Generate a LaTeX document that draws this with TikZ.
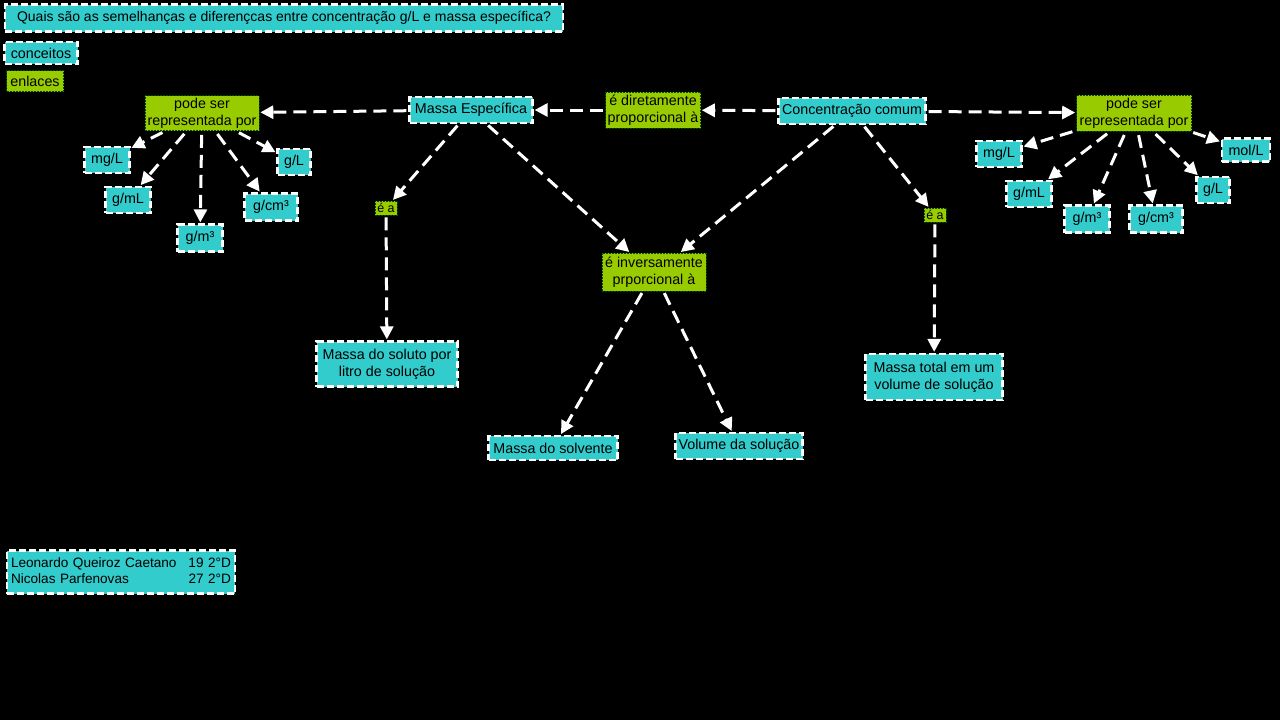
\documentclass[tikz,border=0pt]{standalone}
\usepackage{fontspec}
\setmainfont{Liberation Sans}
\usetikzlibrary{arrows.meta}
\definecolor{conc}{HTML}{33CCCC}
\definecolor{enl}{HTML}{99CC00}
\begin{document}
\begin{tikzpicture}[x=1pt,y=-1pt,
  concept/.style={fill=conc,draw=white,line width=2.2pt,dash pattern=on 7pt off 3pt,inner sep=2pt,align=center,font=\fontsize{14.3}{17}\selectfont,text=black},
  link/.style={fill=enl,draw=green!30!black,line width=0.6pt,dash pattern=on 2pt off 1pt,inner sep=1pt,align=center,font=\fontsize{14.3}{17}\selectfont,text=black},
  arr/.style={draw=white,line width=3pt,dash pattern=on 13pt off 7pt,-{Triangle[length=13pt,width=13pt]},shorten <=2pt,shorten >=1pt}]
\fill[black] (0,0) rectangle (1280,720);
\useasboundingbox (0,0) rectangle (1280,720);
% legend / title
\node[concept,minimum height=27pt,minimum width=558pt,font=\fontsize{14}{17}\selectfont] (title) at (284,18) {Quais são as semelhanças e diferençcas entre concentração g/L e massa específica?};
\node[concept,minimum width=73pt,minimum height=22pt] (conceitos) at (41,53) {conceitos};
\node[link,minimum width=57pt,minimum height=21pt] (enlaces) at (35,81) {enlaces};
% main nodes
\node[link,minimum width=114pt,minimum height=35pt] (podeL) at (202,113) {pode ser\\representada por};
\node[concept,minimum width=123pt,minimum height=26pt] (me) at (471,110) {Massa Específica};
\node[link,minimum width=95pt,minimum height=36pt] (dir) at (653,110) {é diretamente\\proporcional à};
\node[concept,minimum width=147pt,minimum height=26pt] (cc) at (852,111) {Concentração comum};
\node[link,minimum width=115pt,minimum height=36pt] (podeR) at (1134,113) {pode ser\\representada por};
% left units
\node[concept,minimum width=45pt,minimum height=26pt] (lmgL) at (107,160) {mg/L};
\node[concept,minimum width=45pt,minimum height=26pt] (lgmL) at (128,200) {g/mL};
\node[concept,minimum width=45pt,minimum height=27pt] (lgm3) at (200,238) {g/m³};
\node[concept,minimum width=53pt,minimum height=27pt] (lgcm3) at (271,207) {g/cm³};
\node[concept,minimum width=33pt,minimum height=26pt] (lgL) at (294,162) {g/L};
% right units
\node[concept,minimum width=45pt,minimum height=26pt] (rmgL) at (999,154) {mg/L};
\node[concept,minimum width=45pt,minimum height=26pt] (rgmL) at (1029,194) {g/mL};
\node[concept,minimum width=45pt,minimum height=27pt] (rgm3) at (1087,219) {g/m³};
\node[concept,minimum width=53pt,minimum height=27pt] (rgcm3) at (1156,219) {g/cm³};
\node[concept,minimum width=33pt,minimum height=26pt] (rgL) at (1213,190) {g/L};
\node[concept,minimum width=48pt,minimum height=23pt] (rmolL) at (1246,150) {mol/L};
% links
\node[link,minimum width=22pt,minimum height=14pt,inner sep=0pt,font=\fontsize{12.5}{13}\selectfont] (eaL) at (386,208) {é a};
\node[link,minimum width=104pt,minimum height=38pt] (inv) at (654,272) {é inversamente\\prporcional à};
\node[link,minimum width=22pt,minimum height=14pt,inner sep=0pt,font=\fontsize{12.5}{13}\selectfont] (eaR) at (935,215) {é a};
% bottom concepts
\node[concept,minimum width=141pt,minimum height=45pt] (soluto) at (387,364) {Massa do soluto por\\litro de solução};
\node[concept,minimum width=137pt,minimum height=46pt] (total) at (934,377) {Massa total em um\\volume de solução};
\node[concept,minimum width=129pt,minimum height=24pt] (solv) at (553,448) {Massa do solvente};
\node[concept,minimum width=127pt,minimum height=26pt] (vol) at (739,446) {Volume da solução};
% authors
\node[concept,minimum height=43pt,text width=220pt,inner xsep=4pt,align=left,font=\fontsize{13.6}{16.5}\selectfont] (auth) at (121,572) {\begin{tabular*}{220pt}{@{}l@{\extracolsep{\fill}}r@{}}Leonardo Queiroz Caetano & 19 2°D\\Nicolas Parfenovas & 27 2°D\end{tabular*}};
% arrows
\draw[arr] (me) -- (podeL);
\draw[arr] (dir) -- (me);
\draw[arr] (cc) -- (dir);
\draw[arr] (cc) -- (podeR);
\foreach \t in {lmgL,lgmL,lgm3,lgcm3,lgL} \draw[arr,shorten <=4pt] (podeL) -- (\t);
\foreach \t in {rmgL,rgmL,rgm3,rgcm3,rgL,rmolL} \draw[arr,shorten <=4pt] (podeR) -- (\t);
\draw[arr] (me) -- (eaL);
\draw[arr] (me) -- ([xshift=-24pt]inv.north);
\draw[arr] (cc) -- ([xshift=26pt]inv.north);
\draw[arr] (cc) -- (eaR);
\draw[arr] (eaL) -- (soluto);
\draw[arr] (eaR) -- (total);
\draw[arr] (inv) -- (solv);
\draw[arr] (inv) -- (vol);
\end{tikzpicture}
\end{document}
